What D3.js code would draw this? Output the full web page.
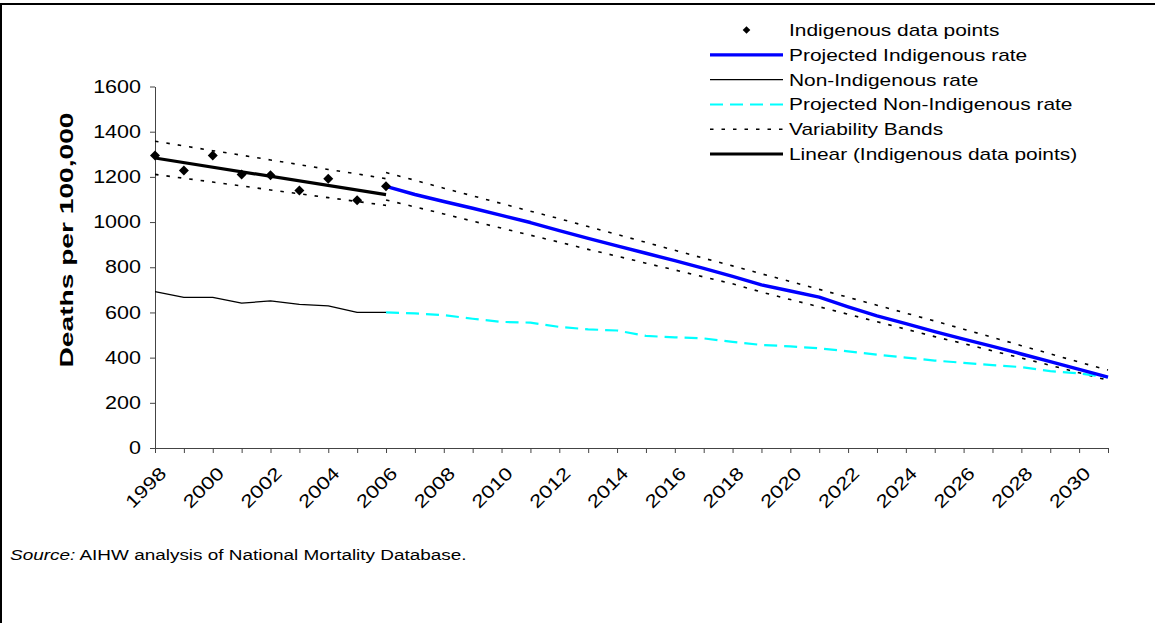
<!DOCTYPE html>
<html>
<head>
<meta charset="utf-8">
<script src="https://cdn.jsdelivr.net/npm/d3@7"></script>
<style>
  html, body { margin: 0; padding: 0; background: #fff; }
  svg { display: block; font-family: Arial, "Liberation Sans", sans-serif; }
</style>
</head>
<body>
<svg id="chart" width="1155" height="623"></svg>
<script>
// ---- data -------------------------------------------------------------
const allYears = d3.range(1998, 2032);                       // category axis 1998..2031
const xTickLabels = [1998, 2000, 2002, 2004, 2006, 2008, 2010, 2012, 2014,
                     2016, 2018, 2020, 2022, 2024, 2026, 2028, 2030];
const yTickValues = [0, 200, 400, 600, 800, 1000, 1200, 1400, 1600];

const observedYears = [1998, 1999, 2000, 2001, 2002, 2003, 2004, 2005, 2006];
const indigenousPoints = [1295, 1228, 1295, 1210, 1207, 1140, 1192, 1097, 1158];
const nonIndigenousRate = [692, 667, 667, 641, 651, 636, 629, 600, 600];
const observedBandUpper = [1358, 1337, 1316, 1296, 1275, 1254, 1233, 1213, 1192];
const observedBandLower = [1211, 1194, 1177, 1160, 1142, 1125, 1108, 1091, 1074];

const projectionYears = [2006, 2007, 2008, 2009, 2010, 2011, 2012, 2013, 2014, 2015,
                         2016, 2017, 2018, 2019, 2020, 2021, 2022, 2023, 2024, 2025,
                         2026, 2027, 2028, 2029, 2030, 2031];
const projectedIndigenous = [1158, 1122, 1091, 1061, 1030, 998, 962, 928, 895, 862,
                             829, 795, 760, 722, 695, 668, 625, 585, 550, 515,
                             482, 450, 416, 382, 348, 314];
const projectedNonIndigenous = [600, 596, 588, 572, 558, 555, 536, 525, 520, 496,
                                490, 485, 470, 456, 450, 441, 428, 413, 400, 387,
                                377, 367, 358, 340, 330, 313];
const projectedBandUpper = [1219, 1185, 1150, 1116, 1082, 1048, 1015, 980, 945, 910,
                            875, 840, 806, 771, 737, 702, 667, 632, 597, 562,
                            526, 490, 453, 417, 380, 345];
const projectedBandLower = [1098, 1067, 1036, 1004, 973, 942, 911, 879, 849, 818,
                            788, 757, 727, 690, 657, 625, 592, 559, 526, 493,
                            462, 430, 398, 366, 333, 300];

const legendItems = [
  { label: "Indigenous data points", kind: "diamond" },
  { label: "Projected Indigenous rate", kind: "line", color: "#0000ff", width: 3.2 },
  { label: "Non-Indigenous rate", kind: "line", color: "#000", width: 1.3 },
  { label: "Projected Non-Indigenous rate", kind: "line", color: "#00ffff", width: 2, dash: "13,7" },
  { label: "Variability Bands", kind: "line", color: "#000", width: 1.6, dash: "3.5,8" },
  { label: "Linear (Indigenous data points)", kind: "line", color: "#000", width: 3.2 }
];

// ---- layout -----------------------------------------------------------
const TEXT_STRETCH = 1.23;      // text in this chart is set wide
const svg = d3.select("#chart");

const x = d3.scaleLinear().domain([1998, 2031]).range([155, 1108]);
const y = d3.scaleLinear().domain([0, 1600]).range([448, 86.5]);

// outer frame (top and left edges)
svg.append("path")
  .attr("d", "M1,623 V4 H1155")
  .attr("fill", "none").attr("stroke", "#000").attr("stroke-width", 2);

// ---- axes -------------------------------------------------------------
const xAxis = svg.append("g")
  .attr("transform", `translate(0,${y(0)})`)
  .call(d3.axisBottom(x).tickValues(allYears).tickSize(5).tickSizeOuter(0).tickFormat(""));
const yAxis = svg.append("g")
  .attr("transform", `translate(${x(1998)},0)`)
  .call(d3.axisLeft(y).tickValues(yTickValues).tickSize(5).tickSizeOuter(0).tickFormat(""));
[xAxis, yAxis].forEach(g => {
  g.selectAll("path,line").attr("stroke", "#444").attr("stroke-width", 1);
});

svg.append("g").selectAll("text")
  .data(yTickValues).join("text")
  .attr("transform", d => `translate(141,${y(d)}) scale(${TEXT_STRETCH},1)`)
  .attr("dy", "0.35em")
  .attr("text-anchor", "end")
  .attr("font-size", 17.5)
  .text(d => d);

// slanted year labels, widened along their own baseline
svg.append("g").selectAll("text")
  .data(xTickLabels).join("text")
  .attr("transform", d => `translate(${x(d) + 8},${y(0) + 22}) rotate(-45) scale(${TEXT_STRETCH},1)`)
  .attr("dy", "0.35em")
  .attr("text-anchor", "end")
  .attr("font-size", 18)
  .text(d => d);

svg.append("text")
  .attr("transform", `translate(67,240) rotate(-90)`)
  .attr("dy", "0.35em")
  .attr("text-anchor", "middle")
  .attr("font-size", 18)
  .attr("font-weight", "bold")
  .attr("textLength", 255)
  .attr("lengthAdjust", "spacingAndGlyphs")
  .text("Deaths per 100,000");

// ---- series -----------------------------------------------------------
const line = d3.line().x(d => x(d[0])).y(d => y(d[1]));
const pairs = (xs, ys) => xs.map((v, i) => [v, ys[i]]);
const plot = svg.append("g");

function drawLine(data, color, width, dash) {
  plot.append("path")
    .attr("d", line(data))
    .attr("fill", "none")
    .attr("stroke", color)
    .attr("stroke-width", width)
    .attr("stroke-dasharray", dash || null)
    .attr("stroke-linejoin", "round");
}

// variability bands
drawLine(pairs(observedYears, observedBandUpper), "#000", 1.6, "3.5,8");
drawLine(pairs(observedYears, observedBandLower), "#000", 1.6, "3.5,8");
drawLine(pairs(projectionYears, projectedBandUpper), "#000", 1.6, "3.5,8");
drawLine(pairs(projectionYears, projectedBandLower), "#000", 1.6, "3.5,8");

// non-Indigenous observed and projected
drawLine(pairs(observedYears, nonIndigenousRate), "#000", 1.3);
drawLine(pairs(projectionYears, projectedNonIndigenous), "#00ffff", 2.2, "13,7");

// projected Indigenous
drawLine(pairs(projectionYears, projectedIndigenous), "#0000ff", 3.4);

// least-squares trend through the Indigenous data points
const mx = d3.mean(observedYears), my = d3.mean(indigenousPoints);
const slope = d3.sum(observedYears, (v, i) => (v - mx) * (indigenousPoints[i] - my)) /
              d3.sum(observedYears, v => (v - mx) * (v - mx));
const trendAt = v => my + slope * (v - mx);
drawLine([[1998, trendAt(1998)], [2006, trendAt(2006)]], "#000", 3.2);

// observed Indigenous points
const diamond = r => `M0,${-r}L${r},0L0,${r}L${-r},0Z`;
plot.append("g").selectAll("path")
  .data(pairs(observedYears, indigenousPoints)).join("path")
  .attr("transform", d => `translate(${x(d[0])},${y(d[1])})`)
  .attr("d", diamond(5))
  .attr("fill", "#000");

// ---- legend -----------------------------------------------------------
const legend = svg.append("g");
const legendRowY = d3.scaleLinear().domain([0, 5]).range([30, 154]);
legendItems.forEach((item, i) => {
  const cy = legendRowY(i);
  if (item.kind === "diamond") {
    legend.append("path")
      .attr("transform", `translate(746.5,${cy})`)
      .attr("d", diamond(3.8))
      .attr("fill", "#000");
  } else {
    legend.append("line")
      .attr("x1", 710).attr("x2", 783).attr("y1", cy).attr("y2", cy)
      .attr("stroke", item.color)
      .attr("stroke-width", item.width)
      .attr("stroke-dasharray", item.dash || null);
  }
  legend.append("text")
    .attr("transform", `translate(789,${cy}) scale(${TEXT_STRETCH},1)`)
    .attr("dy", "0.35em")
    .attr("font-size", 17)
    .text(item.label);
});

// ---- source note ------------------------------------------------------
const note = svg.append("text")
  .attr("transform", `translate(10,560) scale(${TEXT_STRETCH},1)`)
  .attr("font-size", 15.4);
note.append("tspan").attr("font-style", "italic").text("Source:");
note.append("tspan").text(" AIHW analysis of National Mortality Database.");
</script>
</body>
</html>
